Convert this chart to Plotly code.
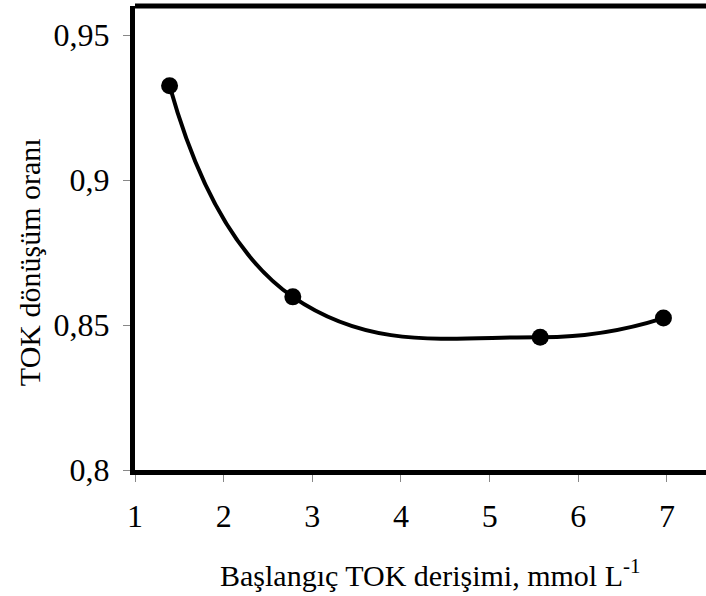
import plotly.graph_objects as go

x_vals = [1.39, 2.78, 5.57, 6.96]
y_vals = [0.9325, 0.8597, 0.8458, 0.8524]
x_ticks = [1, 2, 3, 4, 5, 6, 7]
y_ticks = [0.8, 0.85, 0.9, 0.95]
y_tick_text = ["0,8", "0,85", "0,9", "0,95"]
x_title = "Başlangıç TOK derişimi, mmol L<sup>-1</sup>"
y_title = "TOK dönüşüm oranı"

FONT = "Liberation Serif"

fig = go.Figure()
fig.add_trace(go.Scatter(
    x=x_vals, y=y_vals, mode="lines+markers",
    line=dict(color="black", width=4, shape="spline", smoothing=1.3),
    marker=dict(color="black", size=17),
    showlegend=False,
))

fig.update_layout(
    width=706, height=596,
    margin=dict(l=135, r=0, t=6, b=126),
    paper_bgcolor="white", plot_bgcolor="white",
    font=dict(family=FONT, size=32, color="black"),
    xaxis=dict(
        range=[1, 7.44], tickvals=x_ticks, ticks="outside", ticklen=7,
        tickwidth=1, tickcolor="#888888", showgrid=False, zeroline=False,
        showline=True, linecolor="black", linewidth=5,
        ticklabelstandoff=7,
        tickfont=dict(family=FONT, size=32),
    ),
    yaxis=dict(
        range=[0.8, 0.96], tickvals=y_ticks, ticktext=y_tick_text,
        ticks="outside", ticklen=7, tickwidth=1, tickcolor="#888888",
        showgrid=False, zeroline=False,
        showline=True, linecolor="black", linewidth=5,
        ticklabelstandoff=7,
        tickfont=dict(family=FONT, size=32),
    ),
    shapes=[dict(type="line", xref="paper", yref="paper", x0=0, x1=1,
                 y0=1, y1=1, line=dict(color="black", width=5))],
    annotations=[
        dict(text=x_title, xref="paper", yref="paper", x=0.518, y=-0.222,
             xanchor="center", yanchor="middle", showarrow=False,
             font=dict(family=FONT, size=30)),
        dict(text=y_title, xref="paper", yref="paper", x=-0.1856, y=0.448,
             xanchor="center", yanchor="middle", showarrow=False,
             textangle=-90, font=dict(family=FONT, size=30)),
    ],
)

fig.write_html("out.html")
